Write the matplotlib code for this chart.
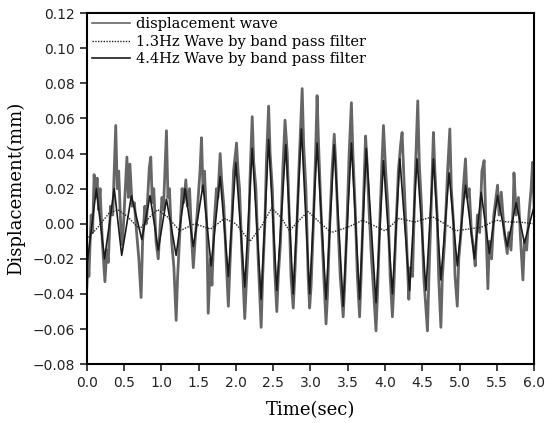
import matplotlib.pyplot as plt

# displacement wave (gray, noisy)
t_disp = [0.00, 0.02, 0.03, 0.06, 0.08, 0.10, 0.12, 0.14, 0.16, 0.18, 0.21, 0.245, 0.27, 0.29,
          0.32, 0.35, 0.39, 0.41, 0.43, 0.46, 0.48, 0.50, 0.54, 0.56, 0.58, 0.61, 0.64, 0.67,
          0.70, 0.73, 0.75, 0.78, 0.80, 0.84, 0.86, 0.88, 0.90, 0.93, 0.96, 0.98, 1.01, 1.03,
          1.07, 1.09, 1.11, 1.14, 1.17, 1.20, 1.22, 1.25, 1.28, 1.30, 1.33, 1.35, 1.38, 1.41,
          1.43, 1.45, 1.48, 1.52, 1.54, 1.56, 1.58, 1.61, 1.63, 1.66, 1.68, 1.71, 1.74, 1.76,
          1.79, 1.81, 1.84, 1.87, 1.90, 1.92, 1.95, 1.97, 2.01, 2.03, 2.05, 2.08, 2.12, 2.14,
          2.17, 2.19, 2.22, 2.24, 2.27, 2.30, 2.34, 2.36, 2.39, 2.41, 2.44, 2.46, 2.49, 2.52,
          2.55, 2.57, 2.60, 2.63, 2.66, 2.69, 2.72, 2.74, 2.77, 2.79, 2.82, 2.85, 2.89, 2.91,
          2.94, 2.97, 2.99, 3.01, 3.04, 3.07, 3.09, 3.11, 3.14, 3.18, 3.21, 3.23, 3.26, 3.29,
          3.32, 3.34, 3.37, 3.40, 3.44, 3.46, 3.49, 3.52, 3.55, 3.57, 3.60, 3.63, 3.66, 3.68,
          3.71, 3.74, 3.76, 3.79, 3.82, 3.85, 3.88, 3.90, 3.93, 3.96, 3.98, 4.01, 4.04, 4.07,
          4.10, 4.12, 4.15, 4.18, 4.21, 4.23, 4.26, 4.29, 4.32, 4.34, 4.37, 4.40, 4.44, 4.46,
          4.49, 4.52, 4.57, 4.59, 4.62, 4.65, 4.67, 4.70, 4.72, 4.75, 4.77, 4.80, 4.84, 4.87,
          4.89, 4.92, 4.94, 4.97, 4.99, 5.02, 5.05, 5.08, 5.10, 5.13, 5.16, 5.19, 5.21, 5.24,
          5.27, 5.30, 5.33, 5.35, 5.38, 5.40, 5.43, 5.46, 5.49, 5.51, 5.53, 5.56, 5.60, 5.64,
          5.66, 5.69, 5.72, 5.73, 5.76, 5.79, 5.82, 5.85, 5.87, 5.90, 5.93, 5.96, 5.98, 6.00]
v_disp = [-0.038, -0.020, -0.030, 0.005, -0.005, 0.028, 0.015, 0.026, 0.008, 0.020, -0.010, -0.033, -0.015, -0.022,
          0.010, 0.005, 0.056, 0.020, 0.030, -0.005, -0.012, 0.005, 0.038, 0.015, 0.034, 0.010, 0.012, -0.005,
          -0.020, -0.042, -0.010, 0.010, 0.000, 0.032, 0.038, 0.012, 0.020, -0.010, -0.020, -0.005, 0.015, 0.008,
          0.053, 0.015, 0.020, -0.010, -0.025, -0.055, -0.030, -0.005, 0.020, 0.012, 0.025, 0.010, 0.020, -0.010,
          -0.025, -0.012, 0.005, 0.030, 0.049, 0.020, 0.030, 0.000, -0.051, -0.020, -0.035, 0.000, 0.020, 0.015,
          0.040, 0.025, 0.010, -0.020, -0.047, -0.025, 0.005, 0.030, 0.046, 0.030, 0.020, -0.015, -0.054, -0.035,
          -0.010, 0.025, 0.061, 0.035, 0.020, -0.020, -0.059, -0.030, 0.000, 0.035, 0.067, 0.040, 0.020, -0.025,
          -0.050, -0.030, -0.010, 0.030, 0.059, 0.040, 0.000, -0.030, -0.048, -0.030, 0.000, 0.035, 0.077, 0.045,
          0.020, -0.030, -0.048, -0.035, 0.000, 0.040, 0.073, 0.045, 0.010, -0.030, -0.057, -0.040, 0.000, 0.030,
          0.051, 0.035, 0.000, -0.030, -0.053, -0.035, 0.000, 0.040, 0.069, 0.040, 0.010, -0.030, -0.053, -0.030,
          0.010, 0.050, 0.035, 0.005, -0.020, -0.040, -0.061, -0.040, 0.000, 0.035, 0.056, 0.030, 0.010, -0.030,
          -0.053, -0.035, 0.000, 0.030, 0.045, 0.052, 0.020, -0.010, -0.043, -0.025, -0.030, 0.020, 0.070, 0.035,
          0.010, -0.030, -0.061, -0.030, 0.010, 0.052, 0.030, 0.005, -0.030, -0.059, -0.030, -0.010, 0.030, 0.054,
          0.020, 0.000, -0.030, -0.047, -0.020, -0.005, 0.020, 0.037, 0.015, 0.020, -0.005, -0.015, -0.024, 0.005,
          -0.005, 0.030, 0.036, 0.005, -0.037, -0.010, -0.020, 0.005, 0.015, 0.022, 0.005, 0.018, -0.005, -0.017,
          -0.005, -0.015, 0.010, 0.029, 0.005, 0.015, -0.010, -0.032, -0.010, -0.015, 0.005, 0.020, 0.035, 0.010]

# 1.3 Hz band pass component (dotted)
t_13 = [0.00, 0.15, 0.30, 0.42, 0.55, 0.71, 0.85, 0.95, 1.08, 1.25, 1.45, 1.66, 1.85, 2.00,
        2.19, 2.35, 2.48, 2.60, 2.72, 2.85, 2.97, 3.12, 3.28, 3.50, 3.70, 3.85, 4.00, 4.19,
        4.40, 4.64, 4.80, 4.95, 5.12, 5.29, 5.49, 5.65, 5.80, 6.00]
v_13 = [-0.009, -0.002, 0.006, 0.008, 0.004, -0.003, 0.004, 0.008, 0.004, -0.004, 0.000, -0.003,
        0.003, 0.000, -0.010, -0.001, 0.009, 0.004, -0.004, 0.002, 0.007, 0.001, -0.005, -0.002,
        0.002, -0.001, -0.004, 0.003, 0.001, 0.004, 0.000, -0.004, -0.003, -0.002, 0.002, 0.001,
        0.001, 0.000]

# 4.4 Hz band pass component (solid, dark)
t_44 = [0.00, 0.13, 0.24, 0.37, 0.47, 0.60, 0.74, 0.85, 0.96, 1.07, 1.20, 1.32, 1.43, 1.56,
        1.67, 1.79, 1.90, 2.00, 2.12, 2.22, 2.34, 2.44, 2.55, 2.67, 2.77, 2.88, 2.99, 3.09,
        3.21, 3.32, 3.44, 3.55, 3.66, 3.75, 3.88, 3.98, 4.10, 4.20, 4.33, 4.43, 4.55, 4.65,
        4.75, 4.86, 4.97, 5.08, 5.20, 5.29, 5.40, 5.51, 5.64, 5.76, 5.87, 6.00]
v_44 = [-0.025, 0.020, -0.020, 0.020, -0.018, 0.016, -0.009, 0.016, -0.015, 0.014, -0.018, 0.020,
        -0.013, 0.022, -0.024, 0.027, -0.030, 0.035, -0.036, 0.043, -0.043, 0.048, -0.038, 0.045,
        -0.040, 0.054, -0.040, 0.046, -0.043, 0.045, -0.047, 0.046, -0.043, 0.043, -0.045, 0.036,
        -0.040, 0.037, -0.038, 0.037, -0.038, 0.037, -0.032, 0.029, -0.024, 0.022, -0.020, 0.018,
        -0.017, 0.016, -0.013, 0.012, -0.011, 0.010]

x_ticks = [0.0, 0.5, 1.0, 1.5, 2.0, 2.5, 3.0, 3.5, 4.0, 4.5, 5.0, 5.5, 6.0]
y_ticks = [-0.08, -0.06, -0.04, -0.02, 0.00, 0.02, 0.04, 0.06, 0.08, 0.10, 0.12]

plt.rcParams['font.family'] = 'DejaVu Sans'

fig = plt.figure(figsize=(5.45, 4.23), dpi=100)
ax = fig.add_axes([0.159, 0.139, 0.821, 0.830])

ax.plot(t_disp, v_disp, color='#666666', lw=2.0, label='displacement wave')
ax.plot(t_13, v_13, color='#222222', lw=1.0, ls=(0, (1, 1)), label='1.3Hz Wave by band pass filter')
ax.plot(t_44, v_44, color='#1a1a1a', lw=1.2, label='4.4Hz Wave by band pass filter')

ax.set_xlim(0, 6)
ax.set_ylim(-0.08, 0.12)
ax.set_xticks(x_ticks)
ax.set_xticklabels(['%.1f' % v for v in x_ticks])
ax.set_yticks(y_ticks)
ax.set_yticklabels(['%.2f' % v if v >= 0 else '\u2212%.2f' % -v for v in y_ticks])
ax.tick_params(direction='out', length=5, width=1.2, labelsize=10, colors='#222222')
for s in ax.spines.values():
    s.set_linewidth(1.5)

ax.set_xlabel('Time(sec)', family='DejaVu Serif', fontsize=13, labelpad=8)
ax.set_ylabel('Displacement(mm)', family='DejaVu Serif', fontsize=13, labelpad=5)

leg = ax.legend(loc='upper left', frameon=False, handlelength=2.6,
                handletextpad=0.35, labelspacing=0.25, borderaxespad=0.0,
                bbox_to_anchor=(0.0, 1.005),
                prop={'family': 'DejaVu Serif', 'size': 10.5})
leg.get_lines()[0].set_linewidth(1.2)

fig.savefig('out.png', dpi=100)
